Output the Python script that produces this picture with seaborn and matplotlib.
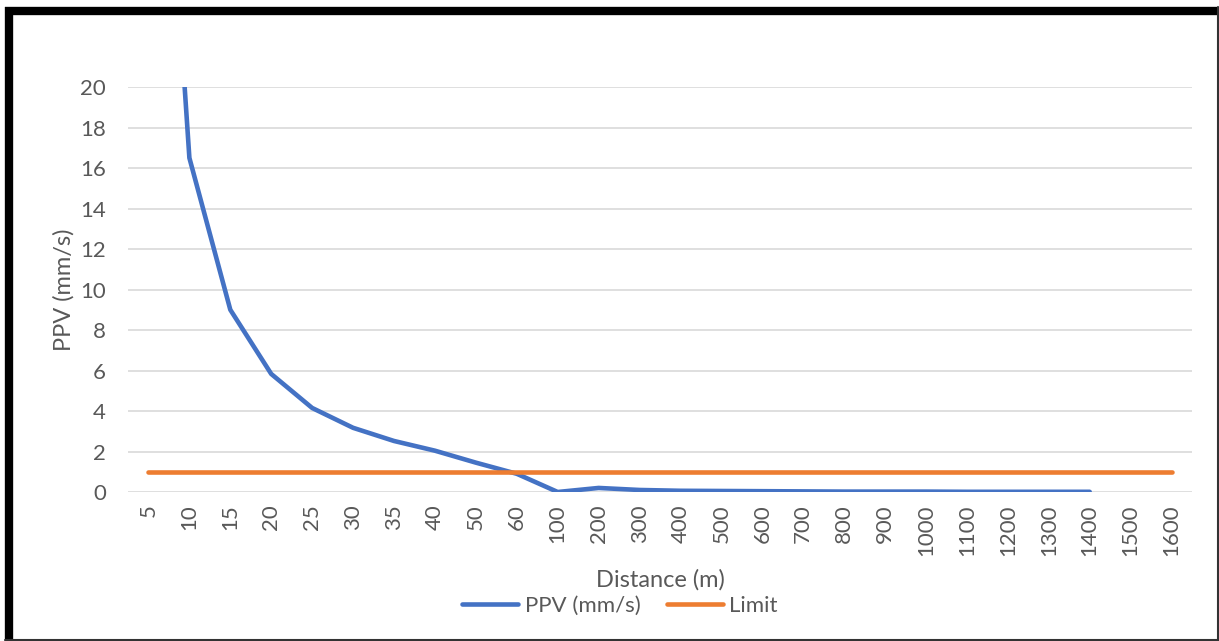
import matplotlib
matplotlib.use("Agg")
import matplotlib.pyplot as plt
from matplotlib.lines import Line2D
import numpy as np
import pandas as pd
import seaborn as sns

distances = ["5", "10", "15", "20", "25", "30", "35", "40", "50", "60", "100", "200",
             "300", "400", "500", "600", "700", "800", "900", "1000", "1100", "1200",
             "1300", "1400", "1500", "1600"]
ppv = [46.7, 16.5, 9.0, 5.83, 4.15, 3.17, 2.52, 2.04, 1.45, 0.9, 0.0, 0.2,
       0.1, 0.06, 0.05, 0.04, 0.03, 0.02, 0.02, 0.02, 0.01, 0.01, 0.01, 0.01,
       np.nan, np.nan]
limit = [1.0] * len(distances)
yticks = [0, 2, 4, 6, 8, 10, 12, 14, 16, 18, 20]

BLUE = "#4472C4"
ORANGE = "#ED7D31"
GREY_TXT = "#595959"

sns.set_theme(style="white")
plt.rcParams["font.family"] = ["Lato", "DejaVu Sans"]

fig = plt.figure(figsize=(12.19, 6.41), dpi=100)
ax = fig.add_axes([128 / 1219, 1 - 492 / 641, (1192 - 128) / 1219, (492 - 87) / 641])

df_ppv = pd.DataFrame({"Distance": distances, "PPV": ppv}).dropna()
df_lim = pd.DataFrame({"Distance": distances, "Limit": limit})

sns.lineplot(data=df_ppv, x="Distance", y="PPV", sort=False, ax=ax, color=BLUE,
             linewidth=3.3, solid_capstyle="round", label="PPV (mm/s)", legend=False)
sns.lineplot(data=df_lim, x="Distance", y="Limit", sort=False, ax=ax, color=ORANGE,
             linewidth=3.3, solid_capstyle="round", label="Limit", legend=False)

ax.set_xlim(-0.5, len(distances) - 0.5)
ax.set_ylim(0, 20)
ax.set_yticks(yticks)
ax.set_yticklabels([str(v) for v in yticks])
ax.yaxis.grid(True, color="#d9d9d9", linewidth=1.2)
ax.set_axisbelow(True)
for s in ax.spines.values():
    s.set_visible(False)
ax.tick_params(axis="both", length=0, labelsize=16, colors=GREY_TXT)
ax.tick_params(axis="y", pad=16)
ax.tick_params(axis="x", pad=9)
plt.setp(ax.get_xticklabels(), rotation=90)

ax.set_ylabel("PPV (mm/s)", fontsize=17, color=GREY_TXT, labelpad=4)
ax.set_xlabel("")
fig.text(660 / 1219, 1 - 580 / 641, "Distance (m)", fontsize=17, color=GREY_TXT,
         ha="center", va="center")

handles = [Line2D([0], [0], color=BLUE, linewidth=3.3, solid_capstyle="round"),
           Line2D([0], [0], color=ORANGE, linewidth=3.3, solid_capstyle="round")]
leg = fig.legend(handles, ["PPV (mm/s)", "Limit"], loc="center",
                 bbox_to_anchor=(620 / 1219, 1 - 606 / 641), ncol=2, frameon=False,
                 fontsize=16, handlelength=2.5, handletextpad=0.3, columnspacing=1.2,
                 borderpad=0.1)
for t in leg.get_texts():
    t.set_color(GREY_TXT)

# figure border
W, H = 1219, 641
fig.add_artist(Line2D([9 / W, 9 / W], [1 - 7 / H, 0], color="black", linewidth=6,
                      transform=fig.transFigure, solid_capstyle="butt"))
fig.add_artist(Line2D([5 / W, 1], [1 - 11 / H, 1 - 11 / H], color="black", linewidth=6,
                      transform=fig.transFigure, solid_capstyle="butt"))
fig.add_artist(Line2D([1217.5 / W, 1217.5 / W], [1 - 7 / H, 0], color="#333333", linewidth=1.5,
                      transform=fig.transFigure))
fig.add_artist(Line2D([5 / W, 1], [1.5 / H, 1.5 / H], color="#333333", linewidth=1.5,
                      transform=fig.transFigure))

fig.savefig("out.png", dpi=100)
